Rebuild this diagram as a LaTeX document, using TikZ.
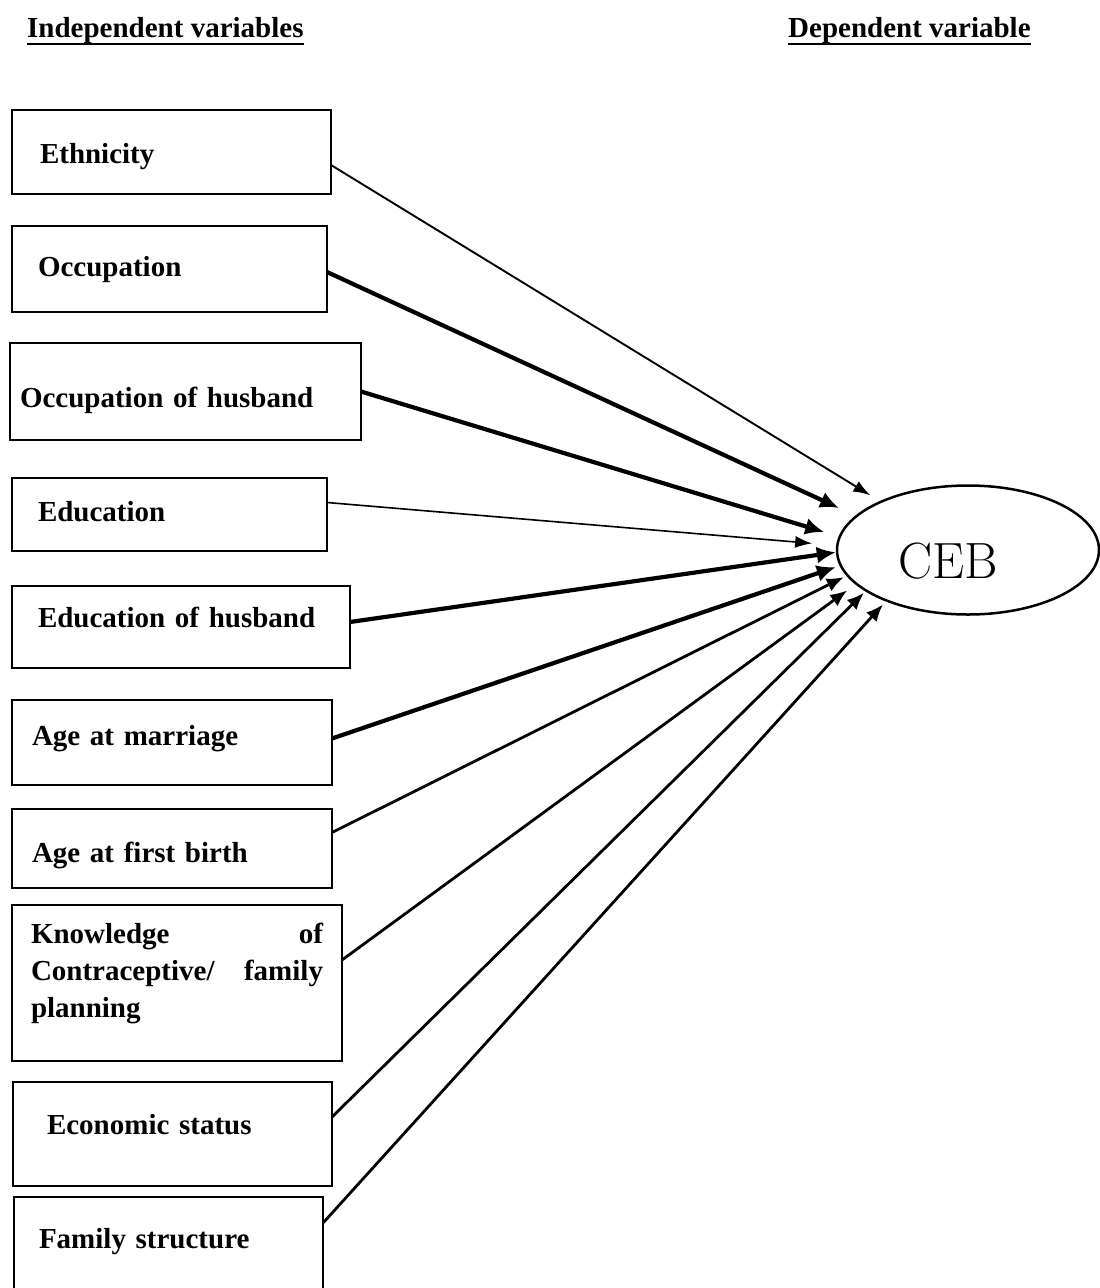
\documentclass[tikz,border=0pt]{standalone}
\usepackage{fontspec}
\usetikzlibrary{positioning,shapes.geometric,arrows.meta}
\newfontfamily\libserif{Liberation Serif}
\newsavebox{\headbox}
\newcommand{\underhead}[1]{\sbox{\headbox}{#1}\rlap{\rule[-8pt]{\wd\headbox}{2.4pt}}\usebox{\headbox}}

\begin{document}
\begin{tikzpicture}[x=1pt,y=-1pt,
        varbox/.style={draw,line width=2.5pt,inner sep=0pt,outer sep=0pt,align=left,
            font=\libserif\bfseries\fontsize{29}{37}\selectfont},
        oneline/.style={text height=21pt,text depth=7pt},
        header/.style={anchor=base west,inner sep=0pt,
            font=\libserif\bfseries\fontsize{29}{35}\selectfont},
        link/.style={line width=1.9pt,-{Latex[length=17pt,width=12pt]}},
        midlink/.style={line width=2.8pt,-{Latex[length=17pt,width=14pt]}},
        heavylink/.style={line width=4.2pt,-{Latex[length=19pt,width=17pt]}}]
    \useasboundingbox (0,0) rectangle (1100,1288);

    % headings
    \node [header] (indep) at (27,37) {\underhead{Independent variables}};
    \node [header] (dep) at (788,37) {\underhead{Dependent variable}};

    % independent variables
    \node [varbox,oneline,anchor=north west,minimum width=319pt,minimum height=84pt,text width=263pt,text height=29pt] (eth) at (12,110) {Ethnicity};
    \node [varbox,oneline,below=32pt of eth.south west,anchor=north west,minimum width=315pt,minimum height=86pt,text width=263pt] (occ) {Occupation};
    \node [varbox,oneline,below=31pt of occ.south west,anchor=north west,xshift=-2pt,minimum width=351pt,minimum height=97pt,text width=331pt,text height=38pt] (occh) {Occupation of husband};
    \node [varbox,oneline,below=38pt of occh.south west,anchor=north west,xshift=2pt,minimum width=315pt,minimum height=73pt,text width=263pt] (edu) {Education};
    \node [varbox,oneline,below=35pt of edu.south west,anchor=north west,minimum width=338pt,minimum height=82pt,text width=286pt,text depth=21pt] (eduh) {Education of husband};
    \node [varbox,oneline,below=32pt of eduh.south west,anchor=north west,minimum width=320pt,minimum height=85pt,text width=280pt,text depth=16pt] (agem) {Age at marriage};
    \node [varbox,oneline,below=24pt of agem.south west,anchor=north west,minimum width=320pt,minimum height=79pt,text width=280pt,text height=34pt] (agefb) {Age at first birth};
    \node [varbox,below=17pt of agefb.south west,anchor=north west,minimum width=330pt,minimum height=156pt] (know)
        {\parbox[c][120pt][t]{292pt}{Knowledge\hfill of\\Contraceptive/\hfill family\\planning}};
    \node [varbox,oneline,below=21pt of know.south west,anchor=north west,xshift=1pt,minimum width=319pt,minimum height=104pt,text width=251pt,text depth=21pt] (econ) {Economic status};
    \node [varbox,oneline,below=11pt of econ.south west,anchor=north west,xshift=1pt,minimum width=309pt,minimum height=120pt,text width=259pt,text depth=39pt] (fam) {Family structure};

    % dependent variable
    \node [ellipse,draw,line width=2.5pt,minimum width=262pt,minimum height=129pt,inner sep=0pt,
        text height=57pt,text depth=0pt,font=\fontsize{51}{60}\selectfont] (ceb) at (968,550) {CEB\kern40pt};

    \draw [link,shorten >=11pt] ([yshift=-13pt]eth.east) -- (ceb.151.6);
    \draw [heavylink,shorten >=18pt] ([yshift=-3pt]occ.east) -- (ceb.163.7);
    \draw [heavylink,shorten >=15pt] (occh.east) -- (ceb.174.8);
    \draw [link,line width=1.6pt,shorten >=24pt] ([yshift=12pt]edu.east) -- (ceb.178.9);
    \draw [heavylink] ([yshift=5pt]eduh.east) -- (ceb.181.7);
    \draw [heavylink,shorten >=4pt] ([yshift=4pt]agem.east) -- (ceb.187.4);
    \draw [midlink,shorten >=3pt] ([yshift=16pt]agefb.east) -- (ceb.192.4);
    \draw [midlink,shorten >=10pt] ([yshift=23pt]know.east) -- (ceb.197);
    \draw [midlink,shorten >=2pt] ([yshift=17pt]econ.east) -- (ceb.202.2);
    \draw [midlink,shorten >=4pt] ([yshift=34pt]fam.east) -- (ceb.212);
\end{tikzpicture}
\end{document}
